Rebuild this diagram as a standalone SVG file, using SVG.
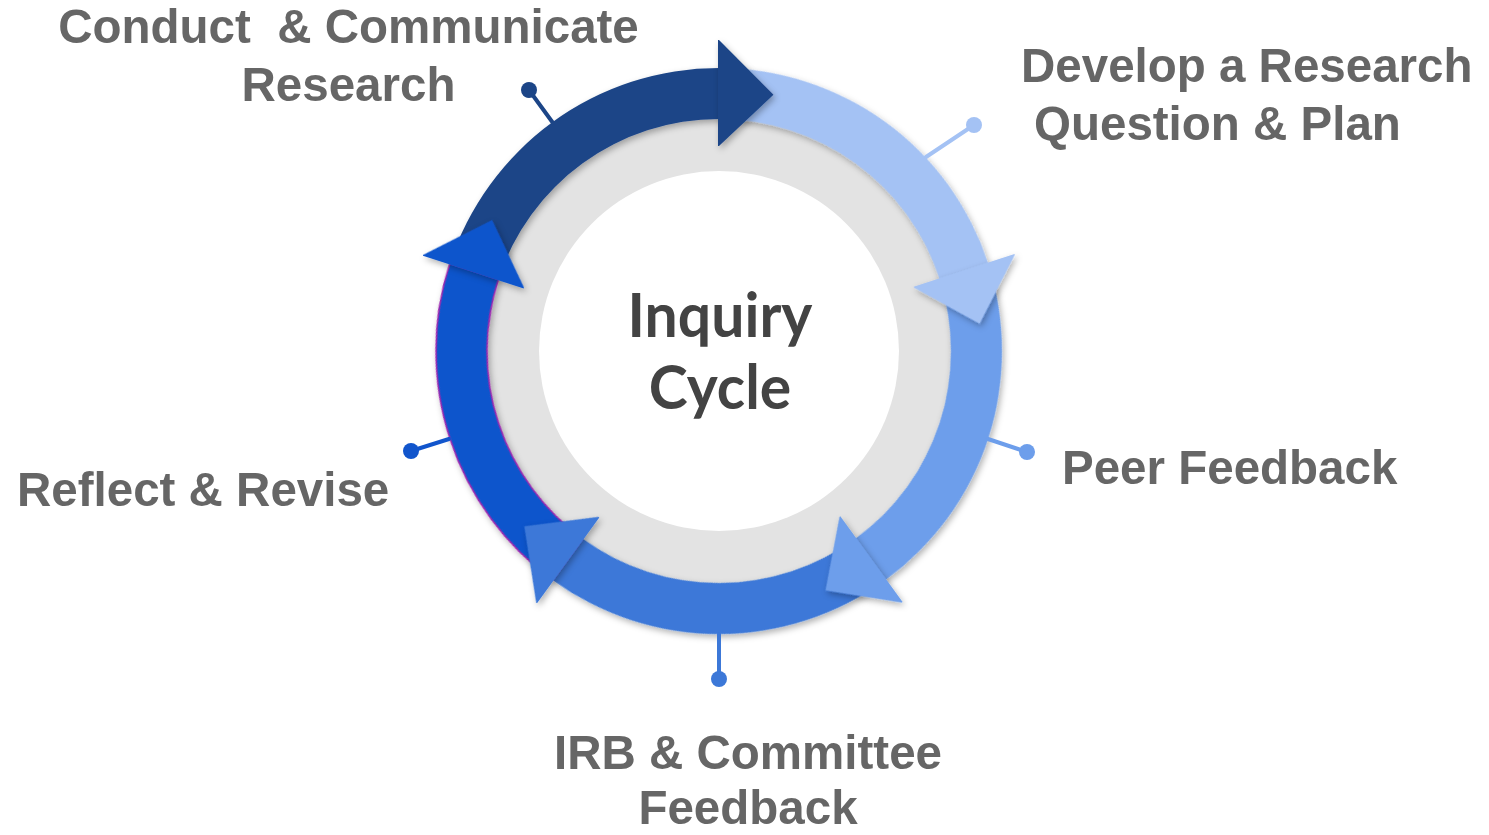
<svg xmlns="http://www.w3.org/2000/svg" width="1489" height="835" viewBox="0 0 1489 835">
  <style>
    .lbl { font-family: "Liberation Sans", Arial, sans-serif; font-weight: bold; font-size: 47.5px; fill: #666666; }
    .ctr { font-family: Lato, "Noto Sans", sans-serif; font-weight: bold; font-size: 62px; fill: #434343; text-anchor: middle; }
    .stem { stroke-width: 4; stroke-linecap: round; fill: none; }
  </style>
  <defs>
    <filter id="sh" x="-20%" y="-20%" width="140%" height="140%">
      <feDropShadow dx="2" dy="3" stdDeviation="3" flood-color="#000000" flood-opacity="0.3"/>
    </filter>
    <path id="body" d="M-269.15,-87.45 A283,283 0 0 1 0,-283 L0,-232 A232,232 0 0 0 -220.65,-71.69 Z"/>
    <path id="head" d="M-1,-311 L0,-311 L54.47,-256.27 L0,-205 L-1,-205 Z"/>
  </defs>
  <rect width="1489" height="835" fill="#ffffff"/>

  <g id="hub" transform="translate(719,351)">
    <circle r="236" fill="#e3e3e3"/>
    <circle r="180" fill="#ffffff"/>
  </g>

  <g id="arrow-bodies" transform="translate(719,351)" filter="url(#sh)">
    <use href="#body" fill="#1c4587"/>
    <use href="#body" fill="#a4c2f4" transform="rotate(72)"/>
    <use href="#body" fill="#6d9eeb" transform="rotate(144)"/>
    <use href="#body" fill="#3c78d8" transform="rotate(216)"/>
    <use href="#body" fill="#1155cc" stroke="#9c27b0" stroke-width="1.5" transform="rotate(288)"/>
  </g>
  <g id="arrow-heads" transform="translate(719,351)" filter="url(#sh)">
    <use href="#head" fill="#1c4587"/>
    <use href="#head" fill="#a4c2f4" transform="rotate(72)"/>
    <use href="#head" fill="#6d9eeb" transform="rotate(144)"/>
    <use href="#head" fill="#3c78d8" transform="rotate(216)"/>
    <use href="#head" fill="#1155cc" transform="rotate(288)"/>
  </g>

  <g id="connectors">
    <line class="stem" x1="553" y1="123" x2="529" y2="90" stroke="#1c4587"/>
    <circle cx="529" cy="90" r="8" fill="#1c4587"/>
    <line class="stem" x1="926" y1="157" x2="974" y2="125" stroke="#a4c2f4"/>
    <circle cx="974" cy="125" r="8" fill="#a4c2f4"/>
    <line class="stem" x1="988" y1="439" x2="1027" y2="452" stroke="#6d9eeb"/>
    <circle cx="1027" cy="452" r="8" fill="#6d9eeb"/>
    <line class="stem" x1="719" y1="634" x2="719" y2="679" stroke="#3c78d8"/>
    <circle cx="719" cy="679" r="8" fill="#3c78d8"/>
    <line class="stem" x1="449" y1="439" x2="411" y2="451" stroke="#1155cc"/>
    <circle cx="411" cy="451" r="8" fill="#1155cc"/>
  </g>

  <g id="center-label">
    <text class="ctr" transform="translate(720,337) scale(0.95,1)">Inquiry</text>
    <text class="ctr" transform="translate(720,409) scale(0.95,1)">Cycle</text>
  </g>

  <g id="label-conduct">
    <text class="lbl" x="348.5" y="43" text-anchor="middle" xml:space="preserve">Conduct  &amp; Communicate</text>
    <text class="lbl" x="348.5" y="101" text-anchor="middle">Research</text>
  </g>
  <g id="label-develop">
    <text class="lbl" x="1021" y="82">Develop a Research</text>
    <text class="lbl" x="1034" y="140">Question &amp; Plan</text>
  </g>
  <g id="label-peer">
    <text class="lbl" x="1062" y="484">Peer Feedback</text>
  </g>
  <g id="label-irb">
    <text class="lbl" x="748" y="769" text-anchor="middle">IRB &amp; Committee</text>
    <text class="lbl" x="748" y="824" text-anchor="middle">Feedback</text>
  </g>
  <g id="label-reflect">
    <text class="lbl" x="17" y="506">Reflect &amp; Revise</text>
  </g>
</svg>
